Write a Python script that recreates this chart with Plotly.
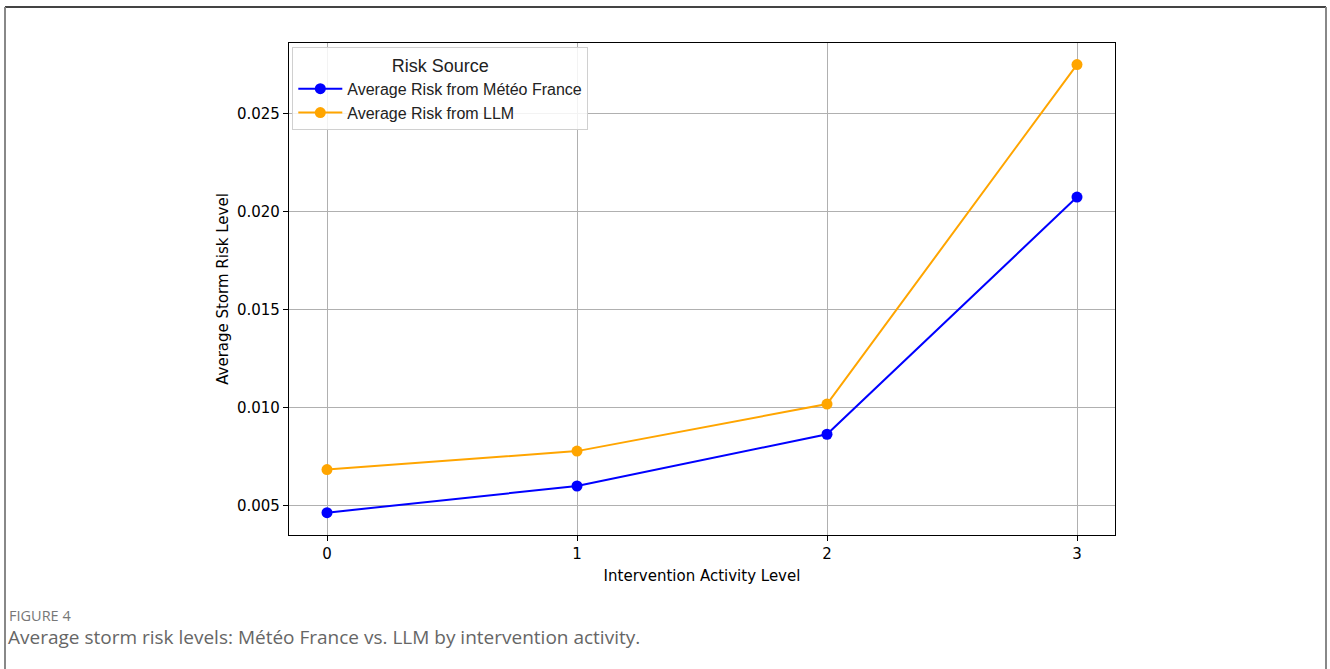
import plotly.graph_objects as go

activity_levels = [0, 1, 2, 3]
risk_meteo = [0.00466, 0.00602, 0.00866, 0.02076]
risk_llm = [0.00686, 0.00780, 0.01020, 0.02752]
y_ticks = [0.005, 0.010, 0.015, 0.020, 0.025]
series_names = ["Average Risk from Météo France", "Average Risk from LLM"]

W, H = 1330, 669
L, R, T, B = 289, 1115, 43, 535

def px(x):
    return (x - L) / (R - L)

def py(y):
    return (B - y) / (B - T)

fig = go.Figure()
fig.add_trace(go.Scatter(x=activity_levels, y=risk_meteo, mode="lines+markers",
                         name=series_names[0],
                         line=dict(color="#0000ff", width=2),
                         marker=dict(color="#0000ff", size=11)))
fig.add_trace(go.Scatter(x=activity_levels, y=risk_llm, mode="lines+markers",
                         name=series_names[1],
                         line=dict(color="#ffa500", width=2),
                         marker=dict(color="#ffa500", size=11)))

axis_font = dict(family="DejaVu Sans", size=15, color="#000000")
fig.update_layout(
    width=W, height=H,
    margin=dict(l=L, r=W - R, t=T, b=H - B),
    paper_bgcolor="white", plot_bgcolor="white",
    showlegend=True,
    legend=dict(
        title=dict(text="Risk Source", side="top center",
                   font=dict(family="Liberation Sans", size=18, color="#222")),
        x=0.004, y=0.991, xanchor="left", yanchor="top",
        bgcolor="rgba(255,255,255,0.85)", bordercolor="#d0d0d0", borderwidth=1,
        font=dict(family="Liberation Sans", size=16, color="#222"),
        itemwidth=44, tracegroupgap=0,
    ),
    xaxis=dict(range=[-0.152, 3.152], tickvals=activity_levels,
               showgrid=True, gridcolor="#b0b0b0", gridwidth=1,
               showline=True, linecolor="#000", linewidth=1.2, mirror=True,
               ticks="outside", ticklen=5, tickcolor="#000",
               tickfont=axis_font, zeroline=False,
               title=dict(text="Intervention Activity Level",
                          font=dict(family="DejaVu Sans", size=15, color="#000"),
                          standoff=8)),
    yaxis=dict(range=[0.00352, 0.02862], tickvals=y_ticks, tickformat=".3f",
               showgrid=True, gridcolor="#b0b0b0", gridwidth=1,
               showline=True, linecolor="#000", linewidth=1.2, mirror=True,
               ticks="outside", ticklen=5, tickcolor="#000",
               tickfont=axis_font, zeroline=False,
               title=dict(text="Average Storm Risk Level",
                          font=dict(family="DejaVu Sans", size=15, color="#000"),
                          standoff=4)),
)

# outer frame of the figure panel
fig.add_shape(type="line", xref="paper", yref="paper",
              x0=px(5), x1=px(1326), y0=py(7), y1=py(7),
              line=dict(color="#444", width=2))
fig.add_shape(type="line", xref="paper", yref="paper",
              x0=px(5), x1=px(5), y0=py(7), y1=py(669),
              line=dict(color="#888", width=2))
fig.add_shape(type="line", xref="paper", yref="paper",
              x0=px(1326), x1=px(1326), y0=py(7), y1=py(669),
              line=dict(color="#888", width=2))

fig.add_annotation(xref="paper", yref="paper", x=px(7), y=py(615),
                   xanchor="left", yanchor="middle", showarrow=False,
                   text="FIGURE 4",
                   font=dict(family="Open Sans", size=14.5, color="#777"))
fig.add_annotation(xref="paper", yref="paper", x=px(6), y=py(637),
                   xanchor="left", yanchor="middle", showarrow=False,
                   text="Average storm risk levels: Météo France vs. LLM by intervention activity.",
                   font=dict(family="Open Sans", size=19, color="#666"))

fig.write_html("out.html", config={"displayModeBar": False},
               post_script="document.body.style.margin='0';document.body.style.overflow='hidden';")
